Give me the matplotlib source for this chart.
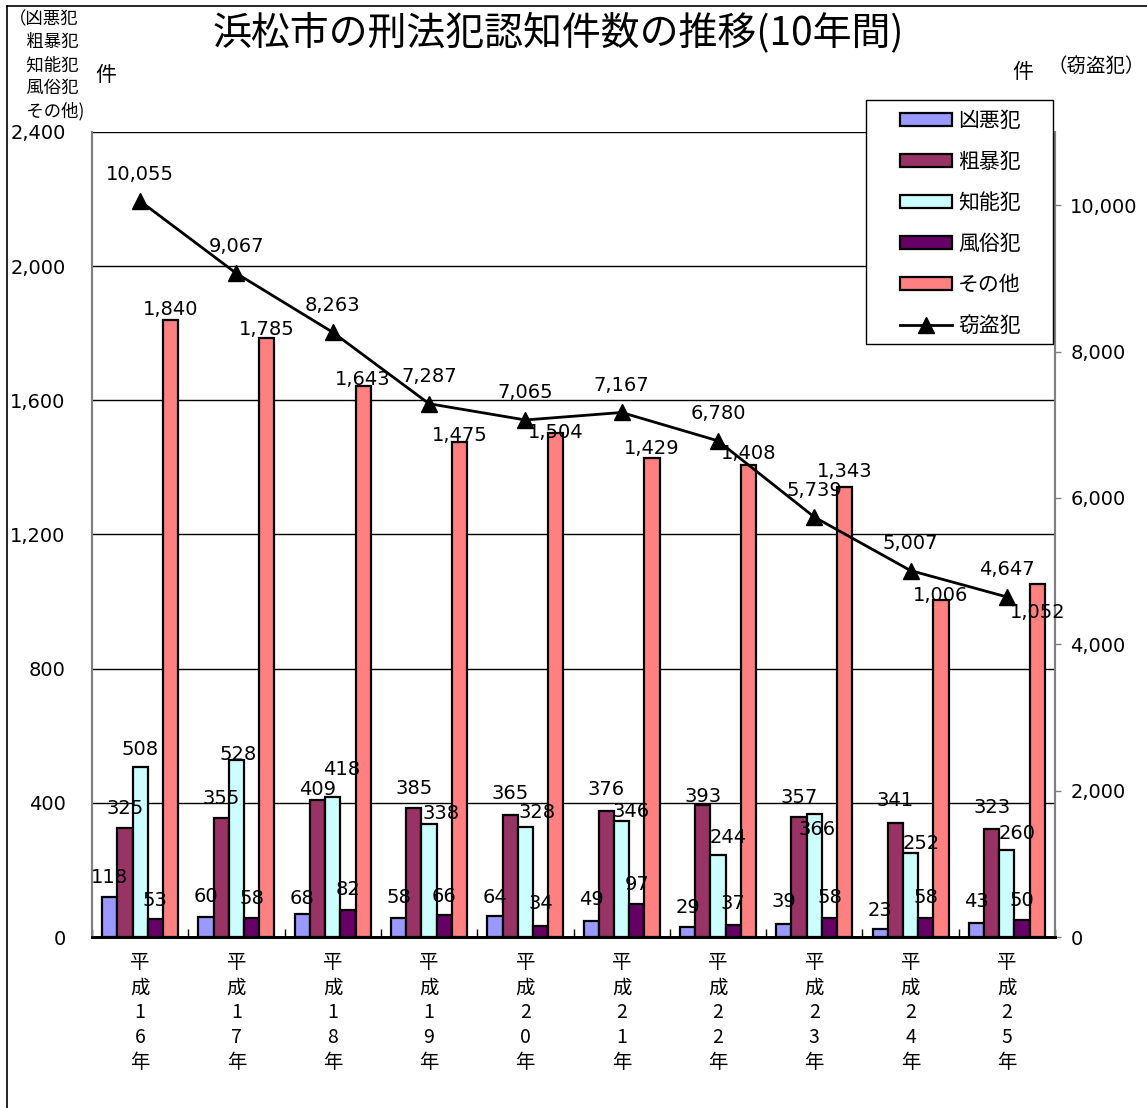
import numpy as np
import matplotlib
matplotlib.use("Agg")
from matplotlib import pyplot as plt
from matplotlib.patches import Patch, Rectangle
from matplotlib.lines import Line2D
from matplotlib.ticker import FuncFormatter

plt.rcParams['font.family'] = ['Noto Sans CJK JP', 'DejaVu Sans']

# data
years = ['平成16年', '平成17年', '平成18年', '平成19年', '平成20年',
         '平成21年', '平成22年', '平成23年', '平成24年', '平成25年']
kyoaku = [118, 60, 68, 58, 64, 49, 29, 39, 23, 43]
sobo = [325, 355, 409, 385, 365, 376, 393, 357, 341, 323]
chino = [508, 528, 418, 338, 328, 346, 244, 366, 252, 260]
fuzoku = [53, 58, 82, 66, 34, 97, 37, 58, 58, 50]
sonota = [1840, 1785, 1643, 1475, 1504, 1429, 1408, 1343, 1006, 1052]
setto = [10055, 9067, 8263, 7287, 7065, 7167, 6780, 5739, 5007, 4647]

bar_names = ['凶悪犯', '粗暴犯', '知能犯', '風俗犯', 'その他']
bar_colors = ['#9999FF', '#993366', '#CCFFFF', '#660066', '#FF8080']

# label placement (pixels above bar top, like excel moved them)
lab_dy = [
    [20, 20, 16, 20, 18, 21, 20, 22, 19, 21],
    [20, 19, 10, 19, 21, 21, 9, 20, 22, 21],
    [17, 5, 27, 10, 15, 9, 18, -15, 9, 16],
    [19, 19, 20, 18, 22, 20, 21, 20, 20, 20],
    [10, 9, 6, 7, 0, 9, 11, 15, 4, -28],
]
chino_dx = [0, 2, 9, 12, 12, 9, 10, 3, 11, 10]

PX = 0.72  # points per pixel at dpi 100
NUMFONT = 'DejaVu Sans'

fig = plt.figure(figsize=(11.47, 11.08), dpi=100)
ax = fig.add_axes([0.0802, 0.1543, 0.8396, 0.7266])
ax2 = ax.twinx()

x = np.arange(len(years))
w = 0.158
series = [kyoaku, sobo, chino, fuzoku, sonota]

for i, vals in enumerate(series):
    xpos = x + (i - 2) * w
    ax.bar(xpos, vals, width=w, color=bar_colors[i], edgecolor='black',
           linewidth=1.6, zorder=3)
    for j, v in enumerate(vals):
        dx = chino_dx[j] if i == 2 else 0
        ax2.annotate(f'{v:,}', (xpos[j], v / 2400 * 11000),
                     xytext=(dx * PX, lab_dy[i][j] * PX), textcoords='offset points',
                     ha='center', va='center', fontsize=14, family=NUMFONT, zorder=6)

ax2.plot(x, setto, color='black', lw=2, marker='^', markersize=11, zorder=5)
for j, v in enumerate(setto):
    ax2.annotate(f'{v:,}', (x[j], v), xytext=(0, 27 * PX), textcoords='offset points',
                 ha='center', va='center', fontsize=14, family=NUMFONT, zorder=6)

ax.set_xlim(-0.5, len(years) - 0.5)
ax.set_ylim(0, 2400)
ax2.set_ylim(0, 11000)

ax.set_yticks(np.arange(0, 2401, 400))
ax.yaxis.set_major_formatter(FuncFormatter(lambda v, p: f'{int(v):,}'))
ax2.set_yticks(np.arange(0, 10001, 2000))
ax2.yaxis.set_major_formatter(FuncFormatter(lambda v, p: f'{int(v):,}'))
for lab in ax.get_yticklabels() + ax2.get_yticklabels():
    lab.set_family(NUMFONT)

ax.set_xticks(x)
ax.set_xticklabels(['\n'.join(y) for y in years], fontsize=14, linespacing=1.25)
ax.set_xticks(np.arange(-0.5, len(years), 1), minor=True)
ax.tick_params(axis='x', which='major', length=0, pad=11)
ax.tick_params(axis='x', which='minor', direction='in', length=6, width=1, color='black')
ax.tick_params(axis='y', length=0, pad=19, labelsize=14)
ax2.tick_params(axis='y', length=4, width=1, color='#808080', pad=7, labelsize=14)

ax.yaxis.grid(True, color='black', linewidth=1)
ax.set_axisbelow(True)

for a in (ax, ax2):
    a.spines['top'].set_visible(False)
    a.spines['left'].set_color('#808080')
    a.spines['left'].set_linewidth(1.5)
    a.spines['right'].set_color('#808080')
    a.spines['right'].set_linewidth(1.5)
    a.spines['bottom'].set_color('black')
    a.spines['bottom'].set_linewidth(2)

# legend box drawn by hand, entries from fig.legend
fig.add_artist(Rectangle((866 / 1147, 1 - 344 / 1108), 187 / 1147, 244 / 1108,
                         transform=fig.transFigure, facecolor='white',
                         edgecolor='black', linewidth=1, zorder=4))
handles = [Patch(facecolor=c, edgecolor='black', linewidth=1.6) for c in bar_colors]
handles.append(Line2D([], [], color='black', lw=2, marker='^', markersize=11))
leg = fig.legend(handles, bar_names + ['窃盗犯'], loc='upper left',
                 bbox_to_anchor=(900 / 1147, 1 - 110 / 1108), bbox_transform=fig.transFigure,
                 fontsize=15, handlelength=2.5, handleheight=0.63, labelspacing=0.91,
                 handletextpad=0.3, borderpad=0, borderaxespad=0, frameon=False)
leg.set_zorder(5)

# title and axis captions
fig.text(0.487, 0.970, '浜松市の刑法犯認知件数の推移(10年間)', ha='center', va='center',
         fontsize=28)
fig.text(0.008, 0.991, '（凶悪犯\n\u3000粗暴犯\n\u3000知能犯\n\u3000風俗犯\n\u3000その他)',
         ha='left', va='top', fontsize=12.5, linespacing=1.36)
fig.text(0.092, 0.932, '件', ha='center', va='center', fontsize=15)
fig.text(0.892, 0.935, '件', ha='center', va='center', fontsize=15)
fig.text(0.956, 0.940, '（窃盗犯）', ha='center', va='center', fontsize=14)

# outer frame (left and top edges)
fig.add_artist(Line2D([0.006, 0.006], [0, 0.995], color='black', lw=1.2,
                      transform=fig.transFigure))
fig.add_artist(Line2D([0.006, 1.0], [0.995, 0.995], color='black', lw=1.2,
                      transform=fig.transFigure))

fig.savefig('out.png', dpi=100)
